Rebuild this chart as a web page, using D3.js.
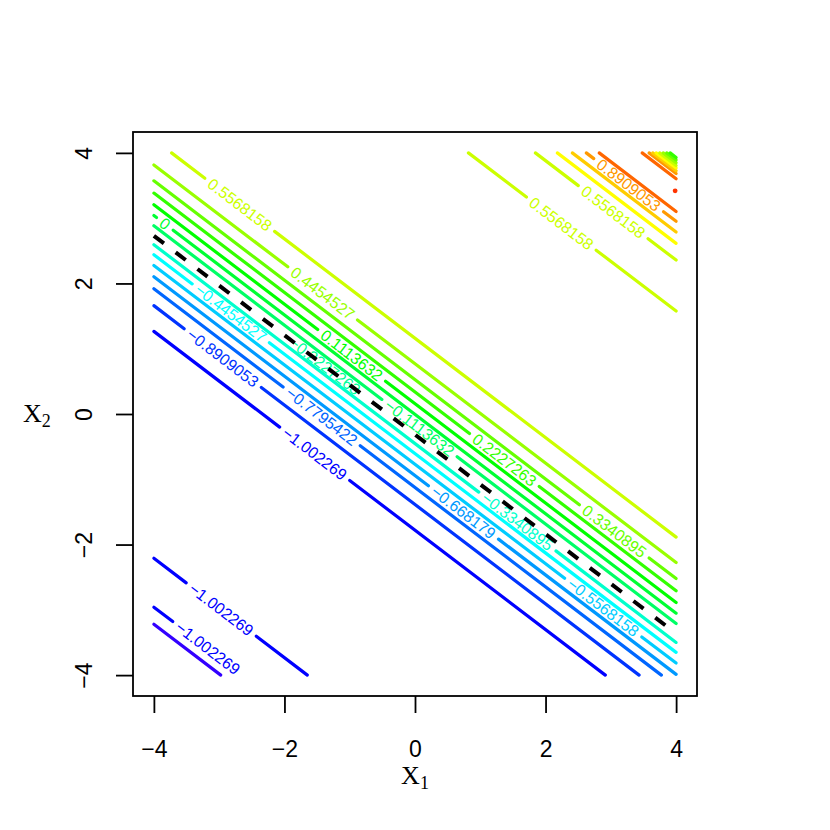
<!DOCTYPE html>
<html lang="en">
<head>
<meta charset="UTF-8">
<title>Contour plot</title>
<style>
  body { margin: 0; background: #fff; }
  svg { display: block; }
  .lab { font-family: "Liberation Sans", Arial, sans-serif; font-size: 16px; }
  .title { font-family: "Liberation Serif", "Times New Roman", serif; font-size: 26px; }
</style>
</head>
<body>
<svg width="830" height="830"></svg>
<script src="https://d3js.org/d3.v7.min.js"></script>
<script>
// contour levels (as printed on the labels)
const levels = [-1.113632, -1.002269, -0.8909053, -0.7795422, -0.668179, -0.5568158,
  -0.4454527, -0.3340895, -0.2227263, -0.1113632, 0, 0.1113632, 0.2227263, 0.3340895,
  0.4454527, 0.5568158, 0.668179, 0.7795422, 0.8909053, 1.002269, 1.113632];

// all contour pieces are straight and parallel: x2 = intercept + slope * x1
const slope = -0.7615;
const intercepts = [1.160, 0.770, 0.526, 0.338, 0.159, -0.005, -0.163, -0.316, -0.453,
  -0.606, -0.770, -0.943, -1.126, -1.386, -1.780,
  -5.256, -6.006, -6.266,
  4.623, 5.404, 5.660, 5.835, 5.998, 6.149, 6.650,
  6.731, 6.773, 6.813, 6.854, 6.895, 6.936, 6.976, 7.017];
const pieceLevel = [0.5568158, 0.4454527, 0.3340895, 0.2227263, 0.1113632, 0, -0.1113632,
  -0.2227263, -0.3340895, -0.4454527, -0.5568158, -0.668179, -0.7795422, -0.8909053, -1.002269,
  -1.002269, -1.002269, -1.113632,
  0.5568158, 0.5568158, 0.668179, 0.7795422, 0.8909053, 1.002269, 1.002269,
  0.8909053, 0.7795422, 0.668179, 0.5568158, 0.4454527, 0.3340895, 0.2227263, 0.1113632];
// x1 of the label centre on each piece (null = unlabelled)
const labelAt = [-2.685, -1.415, 3.052, 1.369, -0.971, -3.832, 0.069, -1.384, 1.568,
  -2.822, 2.883, 0.742, -1.430, -2.945, -1.537,
  -2.968, -3.174, null,
  2.241, 3.036, null, null, 3.273, null, null,
  null, null, null, null, null, null, null, null];

// the boundary level is drawn black and dashed
const boundaryLevel = -0.2227263;
// tiny closed contour at the right edge
const peakX1 = [3.985], peakX2 = [3.419], peakLevel = [1.113632];

const ticks = [-4, -2, 0, 2, 4];

const svg = d3.select("svg");
const x = d3.scaleLinear().domain([-4.32, 4.32]).range([133, 697]);
const y = d3.scaleLinear().domain([-4.32, 4.32]).range([696, 132]);
const hue = d3.scaleLinear().domain([d3.min(levels), d3.max(levels)]).range([252, 12]);
const colour = v => d3.hsl(hue(v), 1, 0.5).formatHex();
const fmt = v => v === 0 ? "0" : String(v).replace("-", "\u2212");

const lenPerX1 = Math.hypot(x(1) - x(0), y(slope) - y(0));
const angle = Math.atan2(y(slope) - y(0), x(1) - x(0)) * 180 / Math.PI;

const pieces = intercepts.map((c, i) => ({
  c: c, level: pieceLevel[i], lab: labelAt[i],
  from: Math.max(-4, (4 - c) / slope),
  to: Math.min(4, (-4 - c) / slope)
}));

const gLabs = svg.append("g");
const gLines = svg.append("g");

// labels first, so the gap in each line can follow the text length
pieces.forEach(p => {
  p.gaps = [];
  if (p.lab === null) return;
  const t = gLabs.append("text").attr("class", "lab")
    .attr("transform", `translate(${x(p.lab)},${y(p.c + slope * p.lab)}) rotate(${angle})`)
    .attr("text-anchor", "middle")
    .attr("dominant-baseline", "central")
    .attr("fill", colour(p.level))
    .text(fmt(p.level));
  const half = (t.node().getComputedTextLength() / 2 + 6) / lenPerX1;
  if (p.level !== boundaryLevel) p.gaps = [p.lab - half, p.lab + half];
});

pieces.forEach(p => {
  let segs = p.gaps.length ? [[p.from, p.gaps[0]], [p.gaps[1], p.to]] : [[p.from, p.to]];
  segs = segs.filter(s => s[1] - s[0] > 0.04);
  const boundary = p.level === boundaryLevel;
  segs.forEach(s => {
    gLines.append("line")
      .attr("x1", x(s[0])).attr("y1", y(p.c + slope * s[0]))
      .attr("x2", x(s[1])).attr("y2", y(p.c + slope * s[1]))
      .attr("stroke", boundary ? "#000" : colour(p.level))
      .attr("stroke-width", boundary ? 4 : 3.2)
      .attr("stroke-linecap", boundary ? "butt" : "round")
      .attr("stroke-dasharray", boundary ? "12.6,14.8" : null);
  });
});
// dashed boundary on top of everything
gLines.selectAll("line").filter(function () { return this.getAttribute("stroke") === "#000"; }).raise();

svg.append("g").selectAll("circle").data(peakX1).join("circle")
  .attr("cx", d => x(d)).attr("cy", (d, i) => y(peakX2[i]))
  .attr("r", 2.4).attr("fill", (d, i) => colour(peakLevel[i]));

// box
svg.append("rect").attr("x", 133).attr("y", 132).attr("width", 564).attr("height", 564)
  .attr("fill", "none").attr("stroke", "#000").attr("stroke-width", 1.8);

const xAxis = svg.append("g").attr("transform", "translate(0,696)")
  .call(d3.axisBottom(x).tickValues(ticks).tickSize(17).tickSizeOuter(0));
xAxis.select(".domain").remove();
xAxis.selectAll("line").attr("stroke-width", 1.8);
xAxis.selectAll("text").attr("y", 61).attr("dy", null)
  .style("font-size", "23px").style("font-family", "'Liberation Sans', Arial, sans-serif");

const yAxis = svg.append("g").attr("transform", "translate(133,0)")
  .call(d3.axisLeft(y).tickValues(ticks).tickSize(17).tickSizeOuter(0));
yAxis.select(".domain").remove();
yAxis.selectAll("line").attr("stroke-width", 1.8);
yAxis.selectAll("text").attr("transform", "rotate(-90)").attr("x", 0).attr("y", -41)
  .attr("dy", null).attr("text-anchor", "middle")
  .style("font-size", "23px").style("font-family", "'Liberation Sans', Arial, sans-serif");

const xt = svg.append("text").attr("class", "title").attr("x", 415).attr("y", 784)
  .attr("text-anchor", "middle").text("X");
xt.append("tspan").attr("font-size", 18).attr("dy", 5).text("1");
const yt = svg.append("text").attr("class", "title").attr("x", 23).attr("y", 422).text("X");
yt.append("tspan").attr("font-size", 18).attr("dy", 5).text("2");
</script>
</body>
</html>
